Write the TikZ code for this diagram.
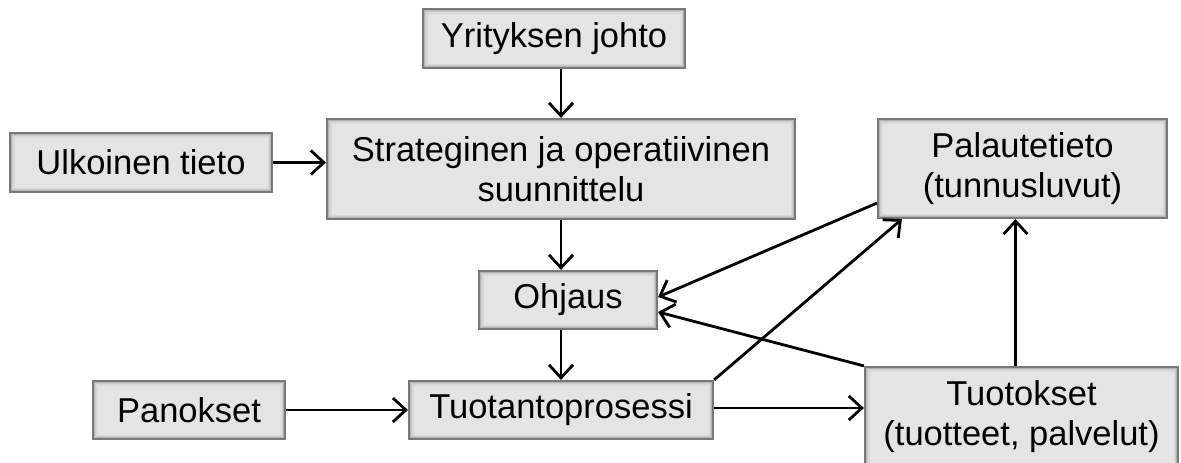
\documentclass[tikz,border=0pt]{standalone}
\usepackage{fontspec}
\setmainfont{Liberation Sans}
\usetikzlibrary{arrows.meta,calc}
\definecolor{boxfill}{HTML}{E4E4E4}
\definecolor{boxline}{HTML}{787878}
\definecolor{bevela}{HTML}{B4B4B4}
\definecolor{bevelb}{HTML}{CBCBCB}
\definecolor{bevelc}{HTML}{D9D9D9}
\tikzset{
  box/.style={draw=boxline, fill=boxfill, line width=2.2pt, inner sep=0pt,
    align=center, font=\fontsize{34.5}{40}\selectfont,
    path picture={
      \draw[bevelc, line width=9pt]
        (path picture bounding box.south west) rectangle (path picture bounding box.north east);
      \draw[bevelb, line width=6pt]
        (path picture bounding box.south west) rectangle (path picture bounding box.north east);
      \draw[bevela, line width=3.5pt]
        (path picture bounding box.south west) rectangle (path picture bounding box.north east);}},
  arr/.style={line width=2.8pt, -{Straight Barb[length=13pt,width=24pt,line width=2.8pt]}}
}
\begin{document}
\begin{tikzpicture}[x=1pt,y=-1pt]
\useasboundingbox (0,0) rectangle (1181,463);
\node[box, minimum width=262pt, minimum height=59pt] (yj) at (554,38.5) {Yrityksen johto};
\node[box, minimum width=262pt, minimum height=59pt] (ut) at (141,162.5) {Ulkoinen tieto};
\node[box, minimum width=468pt, minimum height=100pt] (sj) at (561,169) {Strateginen ja operatiivinen\\suunnittelu};
\node[box, minimum width=289pt, minimum height=99pt] (pt) at (1022.5,168.5) {Palautetieto\\(tunnusluvut)};
\node[box, minimum width=178pt, minimum height=58pt] (oh) at (568,300) {Ohjaus};
\node[box, minimum width=304pt, minimum height=58pt] (tp) at (561,410) {Tuotantoprosessi};
\node[box, minimum width=192pt, minimum height=58pt] (pa) at (189,410) {Panokset};
\node[box, minimum width=313pt, minimum height=100pt] (to) at (1021.5,417) {Tuotokset\\(tuotteet, palvelut)};

\draw[arr] (sj.north |- yj.south) -- (sj.north);
\draw[arr] (ut.east) -- (ut.east -| sj.west);
\draw[arr] (sj.south) -- (sj.south |- oh.north);
\draw[arr] (tp.north |- oh.south) -- (tp.north);
\draw[arr] (pa.east) -- (tp.west);
\draw[arr] ($(tp.east)+(0,-2)$) -- ($(tp.east -| to.west)+(0,-2)$);
\draw[arr] (tp.north east) -- ($(pt.south west)+(25,0)$);
\draw[arr] ($(pt.south west)+(0,-16)$) -- ($(oh.east)+(0,-3)$);
\draw[arr] (to.north west) -- ($(oh.east)+(0,12)$);
\coordinate (tn) at ($(to.north)+(-6,0)$);
\draw[arr] (tn) -- (tn |- pt.south);
\end{tikzpicture}
\end{document}
